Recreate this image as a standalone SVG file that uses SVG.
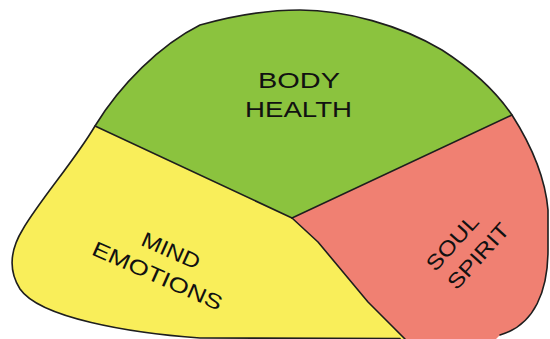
<svg xmlns="http://www.w3.org/2000/svg" width="550" height="339" viewBox="0 0 550 339">
  <style>
    .lbl { font-family: "Liberation Sans", Arial, sans-serif; font-size: 22px; fill: #111; }
    .lbl2 { font-family: "Liberation Sans", Arial, sans-serif; font-size: 21px; fill: #111; }
    .edge { fill: none; stroke: #1e1e1e; stroke-width: 1.6; stroke-linejoin: round; stroke-linecap: round; }
  </style>
  <rect x="0" y="0" width="550" height="339" fill="#ffffff"/>

  <g id="body-health">
    <path d="M95,126 C120,85 160,45 200,25 C235,15 265,10 300,10 C345,10 400,25 442,50 C470,68 495,90 512,115 L292,218 Z" fill="#8bc33e"/>
    <text class="lbl" x="258" y="88" textLength="82" lengthAdjust="spacingAndGlyphs">BODY</text>
    <text class="lbl" x="245" y="117" textLength="107" lengthAdjust="spacingAndGlyphs">HEALTH</text>
  </g>

  <g id="soul-spirit">
    <path d="M512,115 C528,140 545,175 548,210 L548,250 C548,290 535,325 500,335 L490,345 L411,345 L405,339 L368,302 L318,242 L292,218 Z" fill="#f08072"/>
    <g transform="translate(483.6,261) rotate(-48)">
      <text class="lbl2" x="-40.9" y="-28.3" textLength="67" lengthAdjust="spacingAndGlyphs">SOUL</text>
      <text class="lbl2" x="-40.5" y="0" textLength="81" lengthAdjust="spacingAndGlyphs">SPIRIT</text>
    </g>
  </g>

  <g id="mind-emotions">
    <path d="M95,126 L292,218 L318,242 L368,302 L405,339 L200,338 C130,333 40,318 20,289 C8,270 10,250 23,229 C40,200 75,160 95,126 Z" fill="#f9ee5a"/>
    <g transform="translate(154.5,282.4) rotate(24)">
      <text class="lbl2" x="-28.8" y="-28.4" textLength="62" lengthAdjust="spacingAndGlyphs">MIND</text>
      <text class="lbl2" x="-70" y="0" textLength="140" lengthAdjust="spacingAndGlyphs">EMOTIONS</text>
    </g>
  </g>

  <g id="connectors">
    <path class="edge" d="M500,335 C535,325 548,290 548,250 L548,210 C545,175 528,140 512,115 C495,90 470,68 442,50 C400,25 345,10 300,10 C265,10 235,15 200,25 C160,45 120,85 95,126 C75,160 40,200 23,229 C10,250 8,270 20,289 C40,318 130,333 200,338 L400,338.5"/>
    <path class="edge" d="M95,126 L292,218"/>
    <path class="edge" d="M512,115 L292,218"/>
    <path class="edge" d="M292,218 L318,242 L368,302 L405,339"/>
  </g>
</svg>
